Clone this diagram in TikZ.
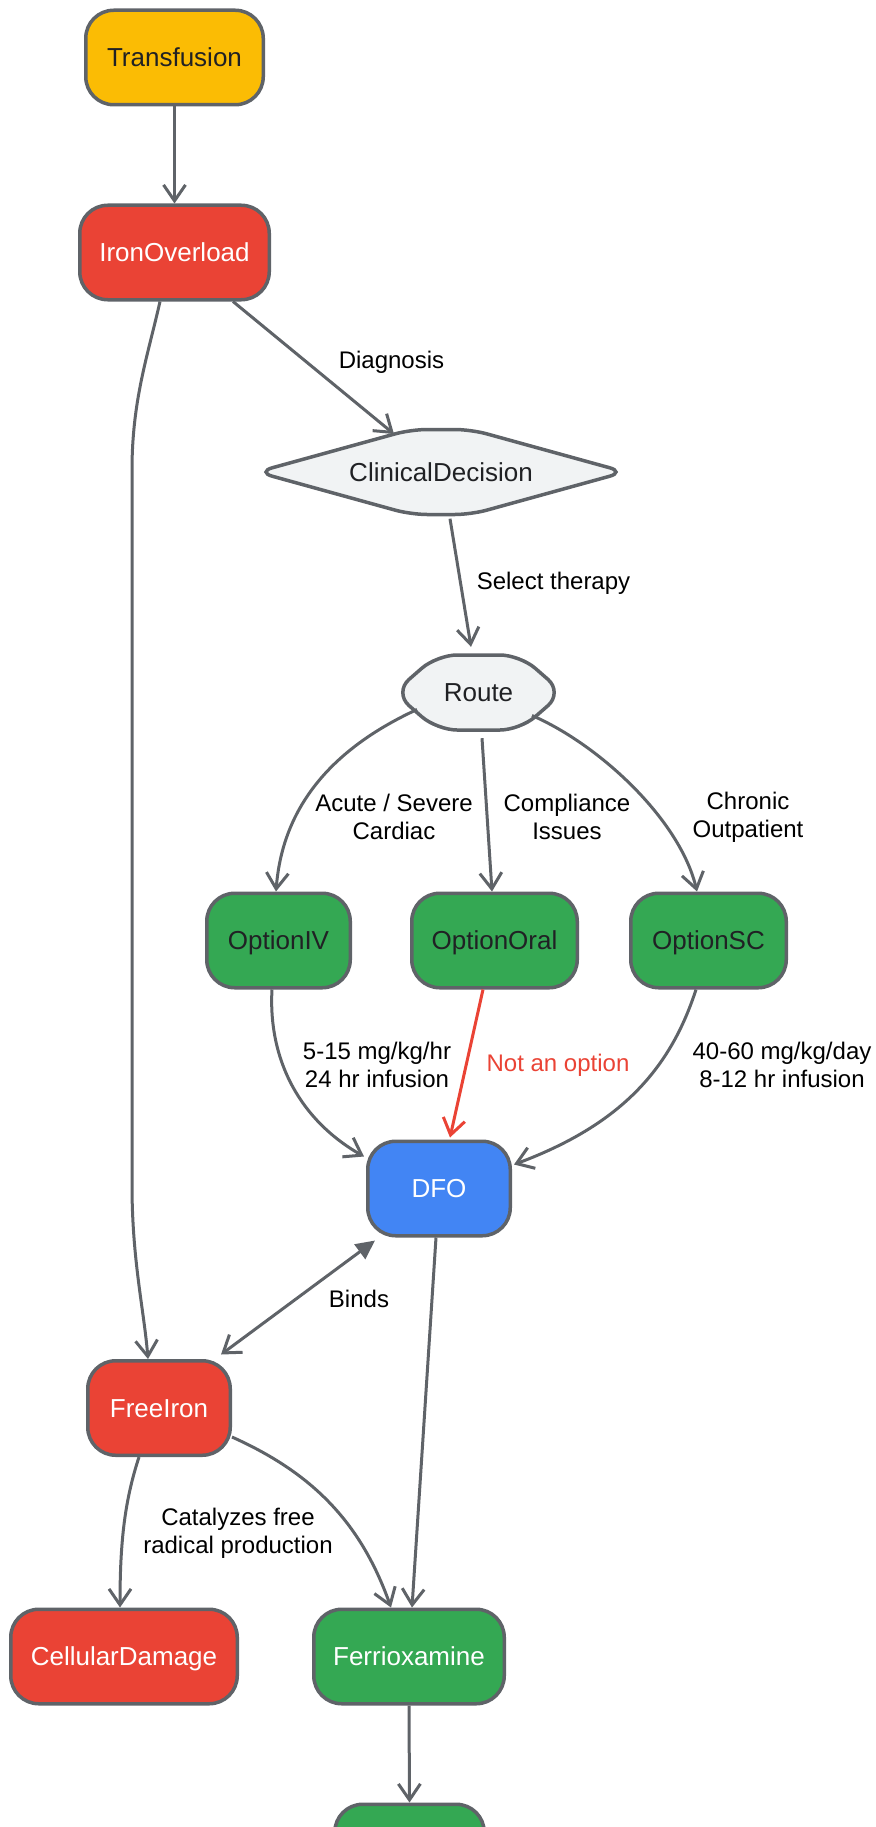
\documentclass[tikz,border=0pt]{standalone}
\usepackage{fontspec}
\setmainfont{Liberation Sans}
\usetikzlibrary{arrows.meta}
\definecolor{cgray}{HTML}{5F6368}
\definecolor{cyellow}{HTML}{FBBC04}
\definecolor{cred}{HTML}{EA4335}
\definecolor{cgreen}{HTML}{34A853}
\definecolor{cblue}{HTML}{4285F4}
\definecolor{chex}{HTML}{F1F3F4}
\definecolor{cdark}{HTML}{202124}
\tikzset{
 box/.style={draw=cgray, line width=3.5pt, rounded corners=28pt, minimum height=94.5pt, inner sep=0pt,
   text height=18.6pt, text depth=0pt, font=\fontsize{26}{30}\selectfont},
 hexshape/.style={draw=cgray, fill=chex, line width=3.5pt, rounded corners=#1},
 hextext/.style={inner sep=0pt, text=cdark, text height=18.6pt, text depth=0pt, font=\fontsize{26}{30}\selectfont},
 conn/.style={draw=cgray, line width=3pt, -{Straight Barb[length=16pt,width=22pt]}},
 lbl/.style={font=\fontsize{24}{28}\selectfont, align=center, text=black, inner sep=0pt},
}
\begin{document}
\begin{tikzpicture}[x=1pt,y=-1pt]
\useasboundingbox (0,0) rectangle (875,1827);
\clip (0,0) rectangle (875,1827);

% nodes
\node[box, fill=cyellow, text=cdark, minimum width=177.5pt] (T) at (174.5,57.5) {Transfusion};
\node[box, fill=cred, text=white, minimum width=189.5pt] (IO) at (174.5,252.5) {IronOverload};

\filldraw[hexshape=16pt] (257,472) -- (411,429.5) -- (471,429.5) -- (625,472) -- (471,514.5) -- (411,514.5) -- cycle;
\node[hextext, minimum width=353pt, minimum height=85pt] (CD) at (441,472) {ClinicalDecision};

\filldraw[hexshape=20pt] (394,692.5) -- (437,655) -- (520,655) -- (563,692.5) -- (520,730) -- (437,730) -- cycle;
\node[hextext, minimum width=155pt, minimum height=75pt] (R) at (478.5,692.5) {Route};

\node[box, fill=cgreen, text=cdark, minimum width=143.5pt] (IV) at (278.5,940.5) {OptionIV};
\node[box, fill=cgreen, text=cdark, minimum width=165.5pt] (OR) at (494.5,940.5) {OptionOral};
\node[box, fill=cgreen, text=cdark, minimum width=155.5pt] (SC) at (708.5,940.5) {OptionSC};
\node[box, fill=cblue, text=white, minimum width=142.5pt] (DFO) at (439,1188.5) {DFO};
\node[box, fill=cred, text=white, minimum width=142.5pt] (FI) at (159,1408) {FreeIron};
\node[box, fill=cred, text=white, minimum width=226.5pt] (CDmg) at (124,1656.5) {CellularDamage};
\node[box, fill=cgreen, text=white, minimum width=190.5pt] (FX) at (409,1656.5) {Ferrioxamine};
\node[box, fill=cgreen, text=white, minimum width=149.5pt] (B) at (409.5,1851.5) {};

% connectors
\draw[conn] (T.south) -- (IO.north);
\draw[conn] ([xshift=58.5pt]IO.south) -- ([xshift=-47pt,yshift=38pt]CD.center);
\draw[conn] ([xshift=-14.5pt]IO.south) .. controls (148,355) and (132,400) .. (132,470)
   -- (132,1185) .. controls (132,1260) and (144,1310) .. ([xshift=-11pt]FI.north);
\draw[conn] ([xshift=9pt,yshift=-4pt]CD.south) -- ([xshift=-7.5pt,yshift=8pt]R.north);
\draw[conn] ([xshift=-61.5pt,yshift=-17pt]R.center) .. controls (340,745) and (283,800) .. ([xshift=-2.5pt]IV.north);
\draw[conn] ([xshift=3.5pt,yshift=-8pt]R.south) -- ([xshift=-2.5pt]OR.north);
\draw[conn] ([xshift=53.5pt,yshift=-23pt]R.center) .. controls (600,745) and (680,820) .. ([xshift=-11.5pt]SC.north);
\draw[conn] ([xshift=-6.5pt]IV.south) .. controls (268,1060) and (300,1120) .. ([xshift=-2pt,yshift=-17pt]DFO.north west);
\draw[conn, draw=cred] ([xshift=-11.5pt]OR.south) -- ([xshift=11pt,yshift=2pt]DFO.north);
\draw[conn] ([xshift=-12.5pt]SC.south) .. controls (670,1070) and (620,1125) .. ([xshift=2pt,yshift=-25pt]DFO.north east);
\draw[conn, {Triangle[length=19pt,width=18pt]}-{Straight Barb[length=16pt,width=22pt]}]
   ([xshift=-64pt,yshift=-3pt]DFO.south) -- ([xshift=-11pt,yshift=4.5pt]FI.north east);
\draw[conn] ([xshift=-3pt]DFO.south) -- ([xshift=3pt]FX.north);
\draw[conn] ([xshift=-20pt]FI.south) .. controls (125,1500) and (120,1540) .. ([xshift=-4pt]CDmg.north);
\draw[conn] ([yshift=-29pt]FI.east) .. controls (310,1472) and (360,1520) .. ([xshift=-18pt]FX.north);
\draw[conn] (FX.south) -- (B.north);

% connector labels
\node[lbl] (l1) at (391.5,362) {Diagnosis};
\node[lbl] (l2) at (553.5,583) {Select therapy};
\node[lbl] (l3) at (394,817) {Acute / Severe\\Cardiac};
\node[lbl] (l4) at (567,817) {Compliance\\Issues};
\node[lbl] (l5) at (748,817) {Chronic\\Outpatient};
\node[lbl] (l6) at (377,1065) {5-15 mg/kg/hr\\24 hr infusion};
\node[lbl, text=cred] (l7) at (558,1065) {Not an option};
\node[lbl] (l8) at (782,1065) {40-60 mg/kg/day\\8-12 hr infusion};
\node[lbl] (l9) at (359,1299) {Binds};
\node[lbl] (l10) at (238,1533) {Catalyzes free\\radical production};
\end{tikzpicture}
\end{document}
